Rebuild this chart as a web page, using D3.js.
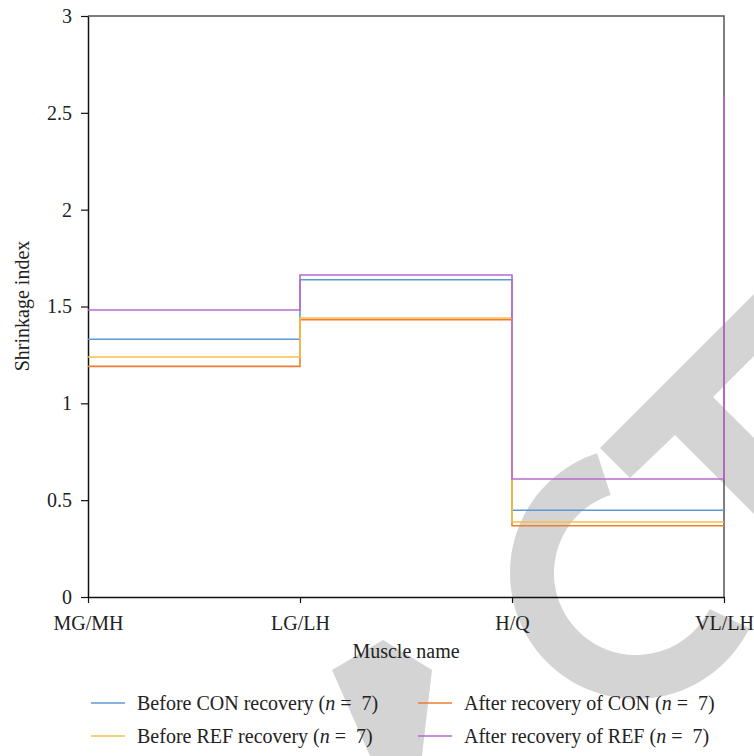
<!DOCTYPE html>
<html><head><meta charset="utf-8">
<script src="https://cdn.jsdelivr.net/npm/d3@7"></script>
<style>body{margin:0;background:#fff}svg{display:block}svg text{font-family:"Liberation Serif","Times New Roman",serif;}</style>
</head><body><svg id="c" width="754" height="756"></svg>
<script>
const categories = ["MG/MH","LG/LH","H/Q","VL/LH"];
const beforeCON = [1.331, 1.638, 0.448, 0.448];
const afterCON  = [1.191, 1.432, 0.368, 0.368];
const beforeREF = [1.239, 1.441, 0.387, 0.387];
const afterREF  = [1.482, 1.663, 0.609, 2.587];
const yTicks = [0, 0.5, 1, 1.5, 2, 2.5, 3];
const yTickLabels = ["0","0.5","1","1.5","2","2.5","3"];
const seriesNames = ["Before CON recovery","After recovery of CON","Before REF recovery","After recovery of REF"];
const seriesColors = ["#5b9bd5","#ed7d31","#f6c04a","#b96ad0"];

const FS = 20;
const svg = d3.select("#c");
const L=88,R=724,T=16,B=597;
const x = d3.scalePoint().domain(categories).range([L,R]);
const y = d3.scaleLinear().domain([0,3]).range([B,T]);

// watermark (decoration, behind everything)
const wm = svg.append("g").attr("fill","#d4d4d4");
(function(){
  const cx=636, cy=573;
  const a0=26*Math.PI/180, a1=252*Math.PI/180, pts=[];
  for(let i=0;i<=72;i++){const t=a0+(a1-a0)*i/72; pts.push([cx+126*Math.cos(t), cy+126*Math.sin(t)]);}
  for(let i=72;i>=0;i--){const t=a0+(a1-a0)*i/72; pts.push([cx+82*Math.cos(t), cy+82*Math.sin(t)]);}
  wm.append("path").attr("d","M"+pts.map(p=>p.map(v=>v.toFixed(1)).join(",")).join("L")+"Z");
  wm.append("path").attr("d","M600,448L800,248L800,310L713,397L830,514L800,560L675,435L630,478Z");
  wm.append("path").attr("d","M332,670L383,640L432,670L422,756L370,756Z");
})();

// frame
svg.append("path").attr("d",`M${L},${T}H${R}V${B}`).attr("fill","none").attr("stroke","#555").attr("stroke-width",1.5);

const yAxis = svg.append("g").attr("transform",`translate(${L},0)`)
  .call(d3.axisLeft(y).tickValues(yTicks).tickFormat((d,i)=>yTickLabels[i]).tickSize(7).tickPadding(9).tickSizeOuter(0));
const xAxis = svg.append("g").attr("transform",`translate(0,${B})`)
  .call(d3.axisBottom(x).tickSize(6).tickPadding(13).tickSizeOuter(0));
[yAxis,xAxis].forEach(g=>{
  g.attr("font-family",null).attr("font-size",null);
  g.selectAll("path.domain").attr("stroke","#111").attr("stroke-width",1.5);
  g.selectAll(".tick line").attr("stroke","#111").attr("stroke-width",1.2);
  g.selectAll("text").attr("font-size",FS).attr("fill","#222");
});

const line = d3.line().x((d,i)=>x(categories[i])).y(d=>y(d)).curve(d3.curveStepAfter);
const series = [beforeCON, afterCON, beforeREF, afterREF];
series.forEach((s,i)=>{
  svg.append("path").datum(s).attr("d",line).attr("fill","none")
    .attr("stroke",seriesColors[i]).attr("stroke-width",1.6);
});

svg.append("text").attr("transform","translate(22,306) rotate(-90)").attr("text-anchor","middle")
  .attr("dominant-baseline","central").attr("font-size",FS).attr("fill","#222").text("Shrinkage index");
svg.append("text").attr("x",406).attr("y",658).attr("text-anchor","middle").attr("font-size",FS).attr("fill","#222").text("Muscle name");

// legend
const lx=[91,418], ly=[703,736];
seriesNames.forEach((n,i)=>{
  const col=i%2,row=Math.floor(i/2);
  const g=svg.append("g");
  g.append("line").attr("x1",lx[col]).attr("x2",lx[col]+34).attr("y1",ly[row]).attr("y2",ly[row])
    .attr("stroke",seriesColors[i]).attr("stroke-width",1.6);
  const t=g.append("text").attr("x",lx[col]+46).attr("y",ly[row]).attr("dy","0.33em").attr("font-size",FS).attr("fill","#222");
  t.append("tspan").text(n+" (");
  t.append("tspan").attr("font-style","italic").text("n");
  t.append("tspan").text("\u00a0=\u00a0\u00a07)");
});
</script></body></html>
